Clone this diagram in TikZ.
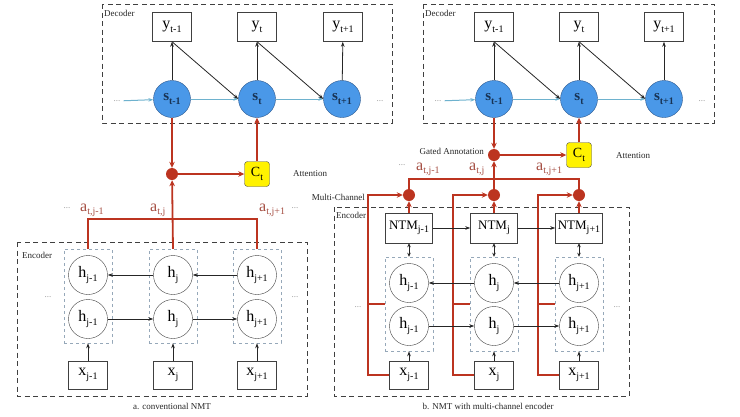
\documentclass[tikz,border=0pt]{standalone}
\usepackage{fontspec}
\setmainfont{Liberation Serif}
\usepackage{tikz}
\usetikzlibrary{arrows.meta}

\definecolor{sblue}{RGB}{74,152,232}
\definecolor{sborder}{RGB}{40,85,140}
\definecolor{lblue}{RGB}{110,178,206}
\definecolor{nred}{RGB}{188,52,32}
\definecolor{ared}{RGB}{165,78,66}
\definecolor{colgray}{RGB}{150,168,185}
\newcommand\lowsub[1]{\raisebox{-3.5pt}{\fontsize{10}{10}\selectfont #1}}

\begin{document}
\begin{tikzpicture}[x=1pt,y=-1pt,
    biglabel/.style={font=\fontsize{16}{16}\selectfont},
    lbl/.style={font=\fontsize{9}{9}\selectfont, text=black!85, inner sep=1pt},
    dots/.style={lbl, text=black!40, inner sep=3pt},
    alabel/.style={anchor=base west, inner sep=0pt, text=ared, biglabel},
    ybox/.style={draw=black!75, minimum width=39, minimum height=29, inner sep=1pt, biglabel},
    xbox/.style={draw=black!75, minimum width=39, minimum height=28, inner sep=1pt, biglabel},
    ntmbox/.style={draw=black!75, minimum width=47, minimum height=30, inner sep=1pt, font=\fontsize{13}{13}\selectfont},
    snode/.style={circle, fill=sblue, draw=sborder, minimum size=37, inner sep=0pt, text=sborder!60!black, font=\fontsize{15}{15}\selectfont\bfseries},
    hnode/.style={circle, draw=black!75, fill=white, minimum size=39, inner sep=0pt, biglabel},
    colbox/.style={draw=colgray, dashed, minimum width=48, minimum height=94},
    frame/.style={draw=black!75, dash pattern=on 5pt off 3.5pt, line width=0.9pt},
    gate/.style={circle, fill=nred, minimum size=12, inner sep=0pt},
    ctbox/.style={draw=black!70, fill=yellow, rounded corners=3pt, minimum size=25, inner sep=0pt, font=\fontsize{14}{14}\selectfont},
    blk/.style={-{Stealth[length=5pt,width=3.5pt]}, line width=0.8pt, black!85},
    dblk/.style={{Stealth[length=4pt,width=3.5pt]}-{Stealth[length=4pt,width=3.5pt]}, line width=0.8pt, black!85},
    bluearr/.style={-{Stealth[length=5pt,width=3.5pt]}, line width=1pt, lblue},
    redline/.style={line width=1.8pt, nred},
    redarr/.style={redline, -{Stealth[length=6pt,width=5.5pt]}}]
    \useasboundingbox (0,0) rectangle (740,416);

    \draw[frame] (102,4) rectangle (392,123);
    \node[lbl, anchor=west] (ldec) at (103,13) {Decoder};
    \node[ybox] (ly1) at (172,27) {y\lowsub{t-1}};
    \node[ybox] (ly2) at (257,27) {y\lowsub{t}};
    \node[ybox] (ly3) at (343,27) {y\lowsub{t+1}};
    \node[snode] (ls1) at (172,99) {s\lowsub{t-1}};
    \node[snode] (ls2) at (257,99) {s\lowsub{t}};
    \node[snode] (ls3) at (342,99) {s\lowsub{t+1}};
    \node[dots] (ldl) at (117,101) {...};
    \node[dots] (ldr) at (380,101) {...};
    \draw[bluearr] (ldl) -- (ls1);
    \draw[bluearr] (ls1) -- (ls2);
    \draw[bluearr] (ls2) -- (ls3);
    \draw[blk] (ls1) -- (ly1);
    \draw[blk] (ls2) -- (ly2);
    \draw[blk] (ls3) -- (ly3);
    \draw[blk] (ly1.south) -- (ls2.west);
    \draw[blk] (ly2.south) -- (ls3.west);

    \node[gate] (ldot) at (172,174) {};
    \node[ctbox] (lct) at (257,174) {C\lowsub{t}};
    \node[lbl] (latt) at (310,174) {Attention};
    \draw[redarr] (ls1) -- (ldot);
    \draw[redarr] (ldot) -- (lct);
    \draw[redarr] (lct) -- (ls2);

    \draw[frame] (17,242) rectangle (307,396);
    \node[lbl, anchor=west] (lenc) at (21,255) {Encoder};
    \node[colbox] (lc1) at (88,296) {};
    \node[colbox] (lc2) at (173,296) {};
    \node[colbox] (lc3) at (257,296) {};
    \node[hnode] (lh1a) at (88,275) {h\lowsub{j-1}};
    \node[hnode] (lh2a) at (173,275) {h\lowsub{j}};
    \node[hnode] (lh3a) at (257,275) {h\lowsub{j+1}};
    \node[hnode] (lh1b) at (88,319) {h\lowsub{j-1}};
    \node[hnode] (lh2b) at (173,319) {h\lowsub{j}};
    \node[hnode] (lh3b) at (257,319) {h\lowsub{j+1}};
    \node[xbox] (lx1) at (88,375) {x\lowsub{j-1}};
    \node[xbox] (lx2) at (173,375) {x\lowsub{j}};
    \node[xbox] (lx3) at (257,375) {x\lowsub{j+1}};
    \node[dots] (lel) at (48,297) {...};
    \node[dots] (ler) at (295,297) {...};
    \draw[blk] (lh2a) -- (lh1a);
    \draw[blk] (lh3a) -- (lh2a);
    \draw[blk] (lh1b) -- (lh2b);
    \draw[blk] (lh2b) -- (lh3b);
    \draw[blk] (lx1) -- (lc1);
    \draw[blk] (lx2) -- (lc2);
    \draw[blk] (lx3) -- (lc3);

    \coordinate (lbar) at (173,219);
    \draw[redline] (lc1.north) |- (lbar) -| (lc3.north);
    \draw[redarr] (lc2.north) -- (ldot);
    \node[dots] (lal) at (67,208) {...};
    \node[alabel] (la1) at (80,211) {a\lowsub{t,j-1}};
    \node[alabel] (la2) at (150,211) {a\lowsub{t,j}};
    \node[alabel] (la3) at (259,211) {a\lowsub{t,j+1}};
    \node[dots] (lar) at (295,208) {...};
    \node[lbl] (lcap) at (172,406) {a. conventional NMT};

    \draw[frame] (423,4) rectangle (714,123);
    \node[lbl, anchor=west] (rdec) at (424,13) {Decoder};
    \node[ybox] (ry1) at (494,27) {y\lowsub{t-1}};
    \node[ybox] (ry2) at (579,27) {y\lowsub{t}};
    \node[ybox] (ry3) at (664,27) {y\lowsub{t+1}};
    \node[snode] (rs1) at (494,99) {s\lowsub{t-1}};
    \node[snode] (rs2) at (579,99) {s\lowsub{t}};
    \node[snode] (rs3) at (664,99) {s\lowsub{t+1}};
    \node[dots] (rdl) at (438,101) {...};
    \node[dots] (rdr) at (702,101) {...};
    \draw[bluearr] (rdl) -- (rs1);
    \draw[bluearr] (rs1) -- (rs2);
    \draw[bluearr] (rs2) -- (rs3);
    \draw[blk] (rs1) -- (ry1);
    \draw[blk] (rs2) -- (ry2);
    \draw[blk] (rs3) -- (ry3);
    \draw[blk] (ry1.south) -- (rs2.west);
    \draw[blk] (ry2.south) -- (rs3.west);

    \node[gate] (rdot) at (494,155) {};
    \node[lbl, anchor=east] (rgated) at (485,151) {Gated Annotation};
    \node[ctbox] (rct) at (579,155) {C\lowsub{t}};
    \node[lbl, anchor=west] (ratt) at (615,156) {Attention};
    \draw[redarr] (rs1) -- (rdot);
    \draw[redarr] (rdot) -- (rct);
    \draw[redarr] (rct) -- (rs2);

    \draw[frame] (334,207) rectangle (629,396);
    \node[lbl, anchor=west] (renc) at (335,215) {Encoder};
    \node[colbox] (rc1) at (409,304) {};
    \node[colbox] (rc2) at (494,304) {};
    \node[colbox] (rc3) at (579,304) {};
    \node[ntmbox] (rn1) at (409,228) {NTM\lowsub{j-1}};
    \node[ntmbox] (rn2) at (494,228) {NTM\lowsub{j}};
    \node[ntmbox] (rn3) at (579,228) {NTM\lowsub{j+1}};
    \node[xbox] (rx1) at (409,375) {x\lowsub{j-1}};
    \node[xbox] (rx2) at (494,375) {x\lowsub{j}};
    \node[xbox] (rx3) at (579,375) {x\lowsub{j+1}};
    \node[gate] (rd1) at (409,195) {};
    \node[gate] (rd2) at (494,195) {};
    \node[gate] (rd3) at (579,195) {};
    \coordinate (rm1) at (368,195);
    \coordinate (rm2) at (453,195);
    \coordinate (rm3) at (538,195);
    \draw[redarr] (rx1.west) -| (rm1) -- (rd1);
    \draw[redarr] (rx2.west) -| (rm2) -- (rd2);
    \draw[redarr] (rx3.west) -| (rm3) -- (rd3);
    \draw[redline] (rc1.west) -- (rc1.west -| rm1);
    \draw[redline] (rc2.west) -- (rc2.west -| rm2);
    \draw[redline] (rc3.west) -- (rc3.west -| rm3);
    \node[hnode] (rh1a) at (409,283) {h\lowsub{j-1}};
    \node[hnode] (rh2a) at (494,283) {h\lowsub{j}};
    \node[hnode] (rh3a) at (579,283) {h\lowsub{j+1}};
    \node[hnode] (rh1b) at (409,326) {h\lowsub{j-1}};
    \node[hnode] (rh2b) at (494,326) {h\lowsub{j}};
    \node[hnode] (rh3b) at (579,326) {h\lowsub{j+1}};
    \node[dots] (rel) at (358,307) {...};
    \node[dots] (rer) at (617,307) {...};
    \node[lbl, anchor=east] (rmulti) at (366,197) {Multi-Channel};
    \draw[blk] (rn1) -- (rn2);
    \draw[blk] (rn2) -- (rn3);
    \draw[dblk] (rn1) -- (rc1);
    \draw[dblk] (rn2) -- (rc2);
    \draw[dblk] (rn3) -- (rc3);
    \draw[blk] (rh2a) -- (rh1a);
    \draw[blk] (rh3a) -- (rh2a);
    \draw[blk] (rh1b) -- (rh2b);
    \draw[blk] (rh2b) -- (rh3b);
    \draw[blk] (rx1) -- (rc1);
    \draw[blk] (rx2) -- (rc2);
    \draw[blk] (rx3) -- (rc3);
    \draw[redarr] (rn1) -- (rd1);
    \draw[redarr] (rn2) -- (rd2);
    \draw[redarr] (rn3) -- (rd3);

    \coordinate (rbar) at (494,179);
    \draw[redline] (rd1) |- (rbar) -| (rd3);
    \draw[redarr] (rd2) -- (rdot);
    \node[dots] (ral) at (402,165) {...};
    \node[alabel] (ra1) at (416,170) {a\lowsub{t,j-1}};
    \node[alabel] (ra2) at (469,170) {a\lowsub{t,j}};
    \node[alabel] (ra3) at (536,170) {a\lowsub{t,j+1}};
    \node[lbl] (rcap) at (488,406) {b. NMT with multi-channel encoder};
\end{tikzpicture}
\end{document}
